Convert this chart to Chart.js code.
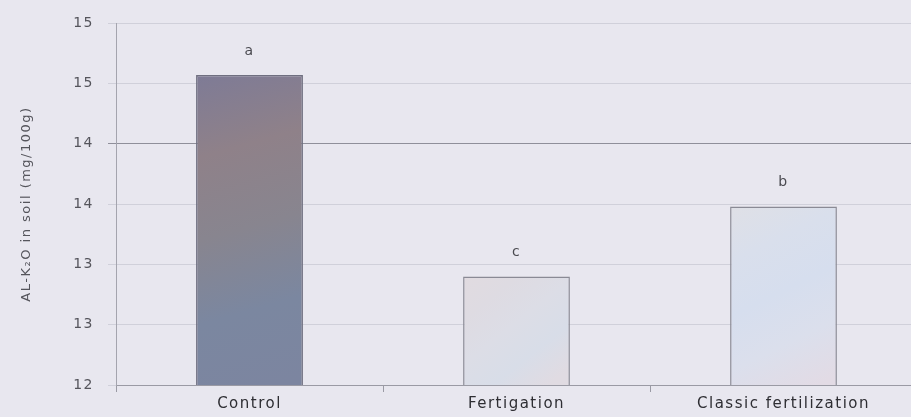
<!DOCTYPE html>
<html>
<head>
<meta charset="utf-8">
<script src="https://cdn.jsdelivr.net/npm/chart.js@4/dist/chart.umd.min.js"></script>
<style>
  html, body { margin: 0; padding: 0; overflow: hidden; background: #e8e7ef; }
  #wrap { width: 917px; height: 417px; }
</style>
</head>
<body>
<div id="wrap"><canvas id="c" width="917" height="417"></canvas></div>
<script>
// Exchangeable potassium in soil by fertilization treatment
const categories = ['Control', 'Fertigation', 'Classic fertilization'];
const values = [14.57, 12.9, 13.48];
const groupLetters = ['a', 'c', 'b'];
const yTickValues = [12, 12.5, 13, 13.5, 14, 14.5, 15];

const FONT = '"DejaVu Sans", Verdana, sans-serif';
const SPACING = '1.5px';

// colour stops for each bar's fill (top-left → bottom-right)
const barStops = [
  ['#7e7b96', '#8f8189', '#88858f', '#7b87a0', '#7c85a0'],
  ['#e1dbe0', '#dedbe2', '#dcdde6', '#d8dde8', '#e0dbe2'],
  ['#dfe0e6', '#d9dfec', '#d6deee', '#dbdfec', '#e2dbe5']
];

function barFill(ctx) {
  const chart = ctx.chart;
  const xs = chart.scales && chart.scales.x;
  const ys = chart.scales && chart.scales.y;
  const stops = barStops[ctx.dataIndex] || barStops[0];
  if (!xs || !ys || !chart.chartArea) return stops[2];
  const cx = xs.getPixelForValue(ctx.dataIndex);
  const half = 54;
  const top = ys.getPixelForValue(values[ctx.dataIndex]);
  const bottom = ys.getPixelForValue(12);
  const g = chart.ctx.createLinearGradient(cx - half, top, cx + half * 0.6, bottom);
  stops.forEach((s, i) => g.addColorStop(i / (stops.length - 1), s));
  return g;
}

// paper background plus the wide letter spacing used by all chart text
const paperPlugin = {
  id: 'paper',
  beforeLayout(chart) { chart.ctx.letterSpacing = SPACING; },
  beforeDraw(chart) {
    const c = chart.ctx;
    c.letterSpacing = SPACING;
    c.save();
    c.fillStyle = '#e8e7ef';
    c.fillRect(0, 0, chart.width, chart.height);
    c.restore();
  }
};

const letterPlugin = {
  id: 'letters',
  afterDatasetsDraw(chart) {
    const c = chart.ctx;
    const meta = chart.getDatasetMeta(0);
    c.save();
    c.font = '14px ' + FONT;
    c.fillStyle = '#4a4a50';
    c.textAlign = 'center';
    c.textBaseline = 'middle';
    meta.data.forEach((bar, i) => {
      c.fillText(groupLetters[i], bar.x, bar.y - 24);
    });
    c.restore();
  }
};

new Chart(document.getElementById('c'), {
  type: 'bar',
  data: {
    labels: categories,
    datasets: [{
      data: values,
      backgroundColor: barFill,
      borderColor: ['#6f6f80', '#8a8a95', '#8a8a95'],
      borderWidth: 1.5,
      borderSkipped: 'bottom',
      categoryPercentage: 0.8,
      barPercentage: 0.5
    }]
  },
  options: {
    responsive: false,
    animation: false,
    events: [],
    layout: { padding: { top: 23, right: 0, bottom: 0, left: 0 } },
    plugins: { legend: { display: false }, tooltip: { enabled: false } },
    scales: {
      x: {
        offset: true,
        grid: {
          offset: true,
          drawOnChartArea: false,
          drawTicks: true,
          tickLength: 7,
          color: '#9a9aa4'
        },
        border: { display: true, color: '#9a9aa4', width: 1 },
        ticks: {
          color: '#2e2e33',
          font: { family: FONT, size: 15 },
          padding: 3,
          maxRotation: 0,
          autoSkip: false
        },
        afterFit(scale) { scale.height = 32; }
      },
      y: {
        min: 12,
        max: 15,
        afterBuildTicks(scale) {
          scale.ticks = yTickValues.map(v => ({ value: v }));
        },
        grid: {
          color: (ctx) => ctx.tick && ctx.tick.value === 14 ? '#8f8f9a' : '#d0d0da',
          tickLength: 8,
          drawTicks: true
        },
        border: { display: true, color: '#a4a4ae', width: 1 },
        ticks: {
          color: '#55555c',
          font: { family: FONT, size: 14 },
          padding: 14,
          callback: (v) => String(Math.round(v))
        },
        title: {
          display: true,
          text: 'AL-K₂O in soil (mg/100g)',
          color: '#55555c',
          font: { family: FONT, size: 13 },
          padding: { top: 19, bottom: 0 }
        },
        afterFit(scale) { scale.width = 116; }
      }
    }
  },
  plugins: [paperPlugin, letterPlugin]
});
</script>
</body>
</html>
